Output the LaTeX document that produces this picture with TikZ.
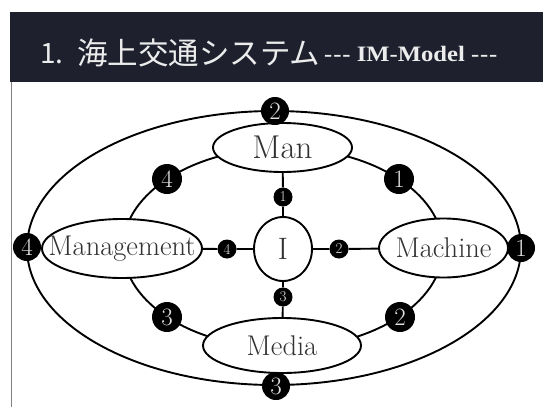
\documentclass[tikz,border=0pt]{standalone}
\usepackage{fontspec}
\usetikzlibrary{shapes.geometric}
\newfontfamily\cjk{Noto Sans CJK JP}
\newfontfamily\titleserif{Liberation Serif}
\definecolor{barcol}{RGB}{30,32,46}
\definecolor{txtgray}{RGB}{50,50,50}
\definecolor{titlewhite}{RGB}{236,236,236}
\definecolor{digitgray}{RGB}{225,225,225}
\pgfdeclarelayer{bg}
\pgfdeclarelayer{lines}
\pgfsetlayers{bg,lines,main}
\begin{document}
\begin{tikzpicture}[x=1pt,y=-1pt,
  ovalbox/.style={ellipse,draw=black,line width=1.9pt,fill=white,inner sep=0pt},
  lbltext/.style={text=txtgray,inner sep=0pt,font=\fontsize{28.5}{28.5}\selectfont},
  bigbadge/.style={circle,fill=black,minimum size=30pt,inner sep=0pt,text=digitgray,font=\fontsize{25}{25}\selectfont},
  outbadge/.style={circle,fill=black,minimum size=28pt,inner sep=0pt,text=digitgray,font=\fontsize{25}{25}\selectfont},
  smallbadge/.style={circle,fill=black,minimum size=19pt,inner sep=0pt,text=digitgray,font=\fontsize{15}{15}\selectfont},
  conn/.style={line width=1.9pt,draw=black}]
\useasboundingbox (0,0) rectangle (543,407);
\begin{pgfonlayer}{bg}
  \fill[white] (0,0) rectangle (543,407);
  \fill[barcol] (10,12) rectangle (543,82);
  \draw[gray,line width=1pt] (11,82) -- (11,407);
\end{pgfonlayer}
% title
\node[anchor=base west,inner sep=0pt,text=titlewhite] (tnum) at (40,63) {\cjk\fontsize{28}{28}\selectfont 1.};
\node[anchor=base west,inner sep=0pt,text=titlewhite] (tjp) at (77,64) {\cjk\fontsize{30.5}{30.5}\selectfont 海上交通システム};
\node[anchor=base west,inner sep=0pt,text=titlewhite] (tim) at (324,61) {\scalebox{1.12}[1]{\titleserif\bfseries\fontsize{22}{22}\selectfont -\kern0.8pt-\kern0.8pt- IM-Model -\kern0.8pt-\kern0.8pt-}};
% main ellipses
\node[ovalbox,minimum width=139pt,minimum height=49pt,label={[lbltext,font=\fontsize{33}{33}\selectfont]center:Man}] (man) at (282.5,147.5) {};
\node[ovalbox,minimum width=129pt,minimum height=59pt,label={[lbltext]center:Machine}] (mach) at (443.5,248) {};
\node[ovalbox,minimum width=160pt,minimum height=59pt,label={[lbltext]center:Management}] (mgmt) at (122,248.5) {};
\node[ovalbox,minimum width=158pt,minimum height=55pt,label={[lbltext]center:Media}] (media) at (282,345.5) {};
\node[ovalbox,minimum width=58pt,minimum height=64pt,label={[lbltext,font=\fontsize{31}{31}\selectfont]center:I}] (I) at (283,249) {};
% spoke badges
\node[smallbadge] (s1) at (283,197) {1};
\node[smallbadge] (s2) at (339,249) {2};
\node[smallbadge] (s3) at (283,297) {3};
\node[smallbadge] (s4) at (227,249) {4};
% ring badges
\node[bigbadge] (r1) at (399,179) {1};
\node[bigbadge] (r2) at (400,317) {2};
\node[bigbadge] (r3) at (167,317) {3};
\node[bigbadge] (r4) at (167,179) {4};
% outer badges
\node[outbadge] (o2) at (275,111) {2};
\node[outbadge] (o1) at (521,248) {1};
\node[outbadge] (o3) at (276,386) {3};
\node[outbadge] (o4) at (27,247) {4};
\begin{pgfonlayer}{lines}
  \draw[conn] (283,248) ellipse [x radius=160pt, y radius=100pt];
  \draw[conn] (274,248) ellipse [x radius=247pt, y radius=137pt];
  \draw[conn] (I) -- (s1) -- (man);
  \draw[conn] (I) -- (s2) -- (mach);
  \draw[conn] (I) -- (s3) -- (media);
  \draw[conn] (I) -- (s4) -- (mgmt);
\end{pgfonlayer}
\end{tikzpicture}
\end{document}
